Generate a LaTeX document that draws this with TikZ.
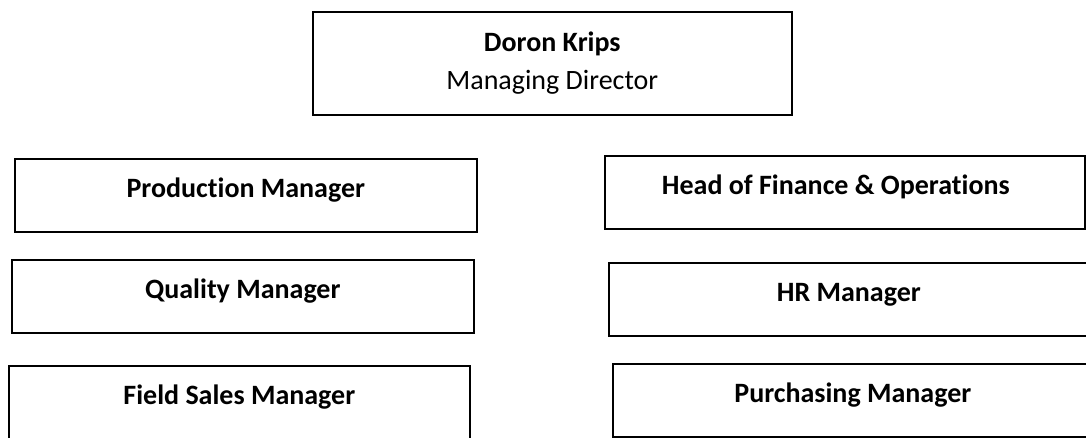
\documentclass[tikz,border=0pt]{standalone}
\usepackage{fontspec}
\setmainfont{Carlito}[Ligatures=NoCommon]

\begin{document}
\begin{tikzpicture}[x=1pt, y=-1pt,
  head/.style={draw, rectangle, line width=1.6pt, anchor=north west, align=center, minimum width=479pt, minimum height=103pt, font=\fontsize{28}{38}\selectfont},
  role/.style={draw, rectangle, line width=1.6pt, anchor=north west, inner xsep=0pt, inner ysep=20pt, text height=19pt, text depth=14pt, font=\fontsize{28}{38}\selectfont\bfseries}]
\useasboundingbox (0,0) rectangle (1086,437);

% Managing director
\node[head] (director) at (312,11) {\textbf{Doron Krips}\\Managing Director};

% Left column
\node[role, minimum width=462pt] (production) at (14,158) {Production Manager};
\node[role, minimum width=462pt] (quality) at (11,259) {Quality Manager};
\node[role, minimum width=461pt] (fieldsales) at (8,365) {Field Sales Manager};

% Right column
\node[role, minimum width=480pt] (finance) at (604,155) {Head of Finance \& Operations\hspace*{18pt}};
\node[role, minimum width=480pt] (hr) at (608,262) {HR Manager};
\node[role, minimum width=480pt] (purchasing) at (612,363) {Purchasing Manager};

\end{tikzpicture}
\end{document}
